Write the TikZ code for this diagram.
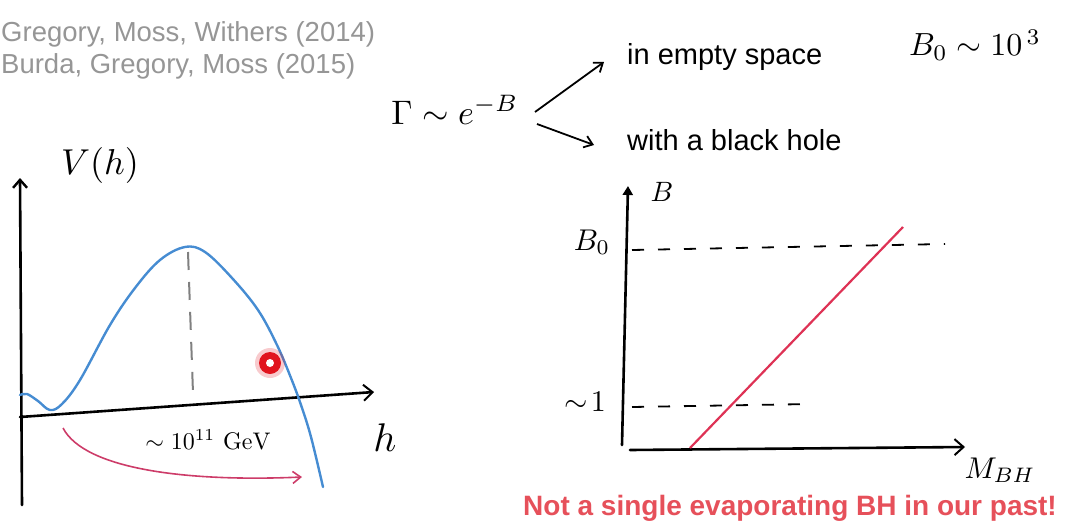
\documentclass[tikz,border=0pt]{standalone}
\usepackage{fontspec}
\newfontfamily\sansf{Liberation Sans}
\usetikzlibrary{arrows.meta}
\definecolor{refgray}{RGB}{150,150,150}
\definecolor{curveblue}{RGB}{70,140,210}
\definecolor{redline}{RGB}{222,50,85}
\definecolor{pinkarrow}{RGB}{205,60,105}
\definecolor{redtext}{RGB}{230,80,90}
\definecolor{dotred}{RGB}{225,20,30}
\tikzset{
  reftxt/.style={text=refgray, font=\sansf\fontsize{27.5}{32}\selectfont, inner sep=0pt},
  typed/.style={text=black, font=\sansf\fontsize{29}{33}\selectfont, inner sep=0pt},
  hw/.style={scale=#1, transform shape, inner sep=0pt},
  axis/.style={line width=2.6pt, line cap=round},
  dash line/.style={line width=1.8pt, dash pattern=on 12pt off 14pt},
  openarrow/.style={-{Straight Barb[length=9pt,width=16pt,line width=2pt]}},
}
\begin{document}
\begin{tikzpicture}[x=1pt,y=-1pt]
\useasboundingbox (0,0) rectangle (1065,525);
\clip (0,0) rectangle (1065,525);

% references
\node[reftxt, anchor=base west] (ref1) at (1,41) {Gregory, Moss, Withers (2014)};
\node[reftxt, anchor=base west] (ref2) at (1,73) {Burda, Gregory, Moss (2015)};

% decay rate
\node[hw=3.4] (gamma) at (455,110) {$\Gamma\sim e^{-B}$};
\node[typed, anchor=base west] (empty) at (627,64) {in empty space};
\node[typed, anchor=base west] (bh) at (627,150) {with a black hole};
\coordinate (g1) at (535,112);
\coordinate (g2) at (537,124);
\coordinate (e1) at (604,62);
\coordinate (b1) at (594,145);
\draw[line width=1.8pt, -{Straight Barb[length=8pt,width=12pt,line width=1.8pt]}] (g1) -- (e1);
\draw[line width=1.8pt, -{Straight Barb[length=8pt,width=12pt,line width=1.8pt]}] (g2) -- (b1);

\node[hw=3.2] (b0val) at (975,45) {$B_0\sim 10^{\,3}$};

% left plot
\coordinate (lo) at (20,417);
\coordinate (ly) at (20,178);
\coordinate (lyb) at (22,505);
\coordinate (lx) at (374,392);
\draw[axis, -{Straight Barb[length=8pt,width=14pt,line width=2.4pt]}] (lyb) -- (ly);
\draw[axis, openarrow] (lo) -- (lx);
\node[hw=3.6] (vh) at (100,165) {$V(h)$};
\node[hw=4] (hlab) at (385,438) {$h$};

\draw[curveblue, line width=2.4pt, line cap=round] plot[smooth, tension=0.6] coordinates {
 (20,395) (27,394) (38,401) (50,410) (62,404) (80,380) (110,325) (135,288)
 (160,260) (185,247) (205,252) (232,278) (258,310) (277,345) (291,378)
 (301,405) (311,437) (323,487)};
\draw[gray, line width=2pt, dash pattern=on 18pt off 12pt] (188,252) -- (193,393);

\node[circle, fill=dotred, opacity=0.22, minimum size=30pt, inner sep=0pt] (glow) at (270,363) {};
\node[circle, fill=dotred, minimum size=22pt, inner sep=0pt] (dot) at (270,363) {};
\node[circle, fill=white, minimum size=8pt, inner sep=0pt] (dotc) at (270,363) {};

\node[hw=2.4] (gev) at (208,440) {$\sim 10^{11}\ \mathrm{GeV}$};
\coordinate (p1) at (63,428);
\coordinate (p2) at (302,477);
\draw[pinkarrow, line width=1.6pt, -{Straight Barb[length=8pt,width=12pt,line width=1.6pt]}]
  (p1) .. controls (85,470) and (190,482) .. (p2);

% right plot
\coordinate (ro) at (630,450);
\coordinate (ryb) at (622,445);
\coordinate (ry) at (628,186);
\coordinate (rx) at (965,447);
\draw[axis, -{Triangle[length=9pt,width=10pt]}] (ryb) -- (ry);
\draw[axis, openarrow] (ro) -- (rx);
\node[hw=2.8] (blab) at (662,192) {$B$};
\node[hw=3] (b0lab) at (592,242) {$B_0$};
\node[hw=3] (onelab) at (585,402) {$\sim\!1$};
\node[hw=3] (mlab) at (1000,470) {$M_{BH}$};
\coordinate (d1a) at (632,250);
\coordinate (d1b) at (945,244);
\coordinate (d2a) at (632,407);
\coordinate (d2b) at (812,404);
\draw[dash line] (d1a) -- (d1b);
\draw[dash line] (d2a) -- (d2b);
\coordinate (r1) at (690,448);
\coordinate (r2) at (903,227);
\draw[redline, line width=2.2pt] (r1) -- (r2);

\node[font=\sansf\bfseries\fontsize{28}{32}\selectfont, text=redtext, anchor=base west, inner sep=0pt] (concl) at (523,515) {Not a single evaporating BH in our past!};
\end{tikzpicture}
\end{document}
